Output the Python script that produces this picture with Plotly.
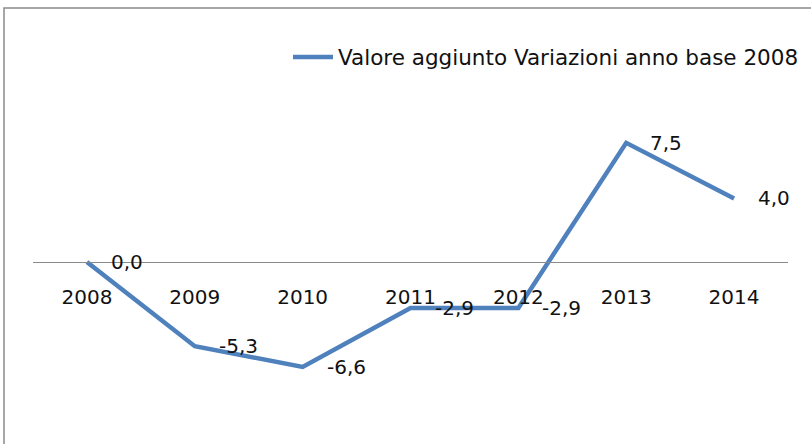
import plotly.graph_objects as go

years = ["2008", "2009", "2010", "2011", "2012", "2013", "2014"]
values = [0.0, -5.3, -6.6, -2.9, -2.9, 7.5, 4.0]
labels = ["0,0", "-5,3", "-6,6", "-2,9", "-2,9", "7,5", "4,0"]
series_name = "Valore aggiunto Variazioni anno base 2008"

W, H = 811, 444
L, R = 33, 788          # plot area in px
T, B = 119, 405
YMIN, YMAX = -9, 9

def px_x(p):
    return (p - L) / (R - L)

def px_y(p):
    return (B - p) / (B - T)

FONT = "DejaVu Sans"
COLOR = "#4F81BD"
TXT = "#111111"

fig = go.Figure()
fig.add_trace(go.Scatter(
    x=list(range(len(years))), y=values, mode="lines", name=series_name,
    line=dict(color=COLOR, width=4.5),
    hoverinfo="skip",
))

for i, (v, t) in enumerate(zip(values, labels)):
    fig.add_annotation(x=i, y=v, text=t, showarrow=False,
                       xanchor="left", yanchor="middle", xshift=22,
                       font=dict(family=FONT, size=20, color=TXT))

# outer chart border (top and left visible)
fig.add_shape(type="rect", xref="paper", yref="paper",
              x0=px_x(4), x1=px_x(830), y0=px_y(8), y1=px_y(460),
              line=dict(color="#8a8a8a", width=1.5), layer="below")

fig.update_layout(
    width=W, height=H,
    margin=dict(l=L, r=W - R, t=T, b=H - B, pad=0, autoexpand=False),
    paper_bgcolor="white", plot_bgcolor="white",
    showlegend=True,
    legend=dict(x=px_x(804), y=px_y(57), xanchor="right", yanchor="middle",
                font=dict(family=FONT, size=21.5, color=TXT),
                bgcolor="rgba(0,0,0,0)", itemwidth=40),
    xaxis=dict(type="linear", range=[-0.5, 6.5], anchor="free", position=0.5,
               tickmode="array", tickvals=list(range(len(years))), ticktext=years,
               showline=True, linecolor="#8a8a8a", linewidth=1,
               showgrid=False, zeroline=False, ticks="",
               ticklabelstandoff=17,
               tickfont=dict(family=FONT, size=20, color=TXT)),
    yaxis=dict(range=[YMIN, YMAX], visible=False, showgrid=False, zeroline=False),
)

fig.write_html("out.html", config={"displayModeBar": False},
               post_script="document.body.style.margin='0';")
